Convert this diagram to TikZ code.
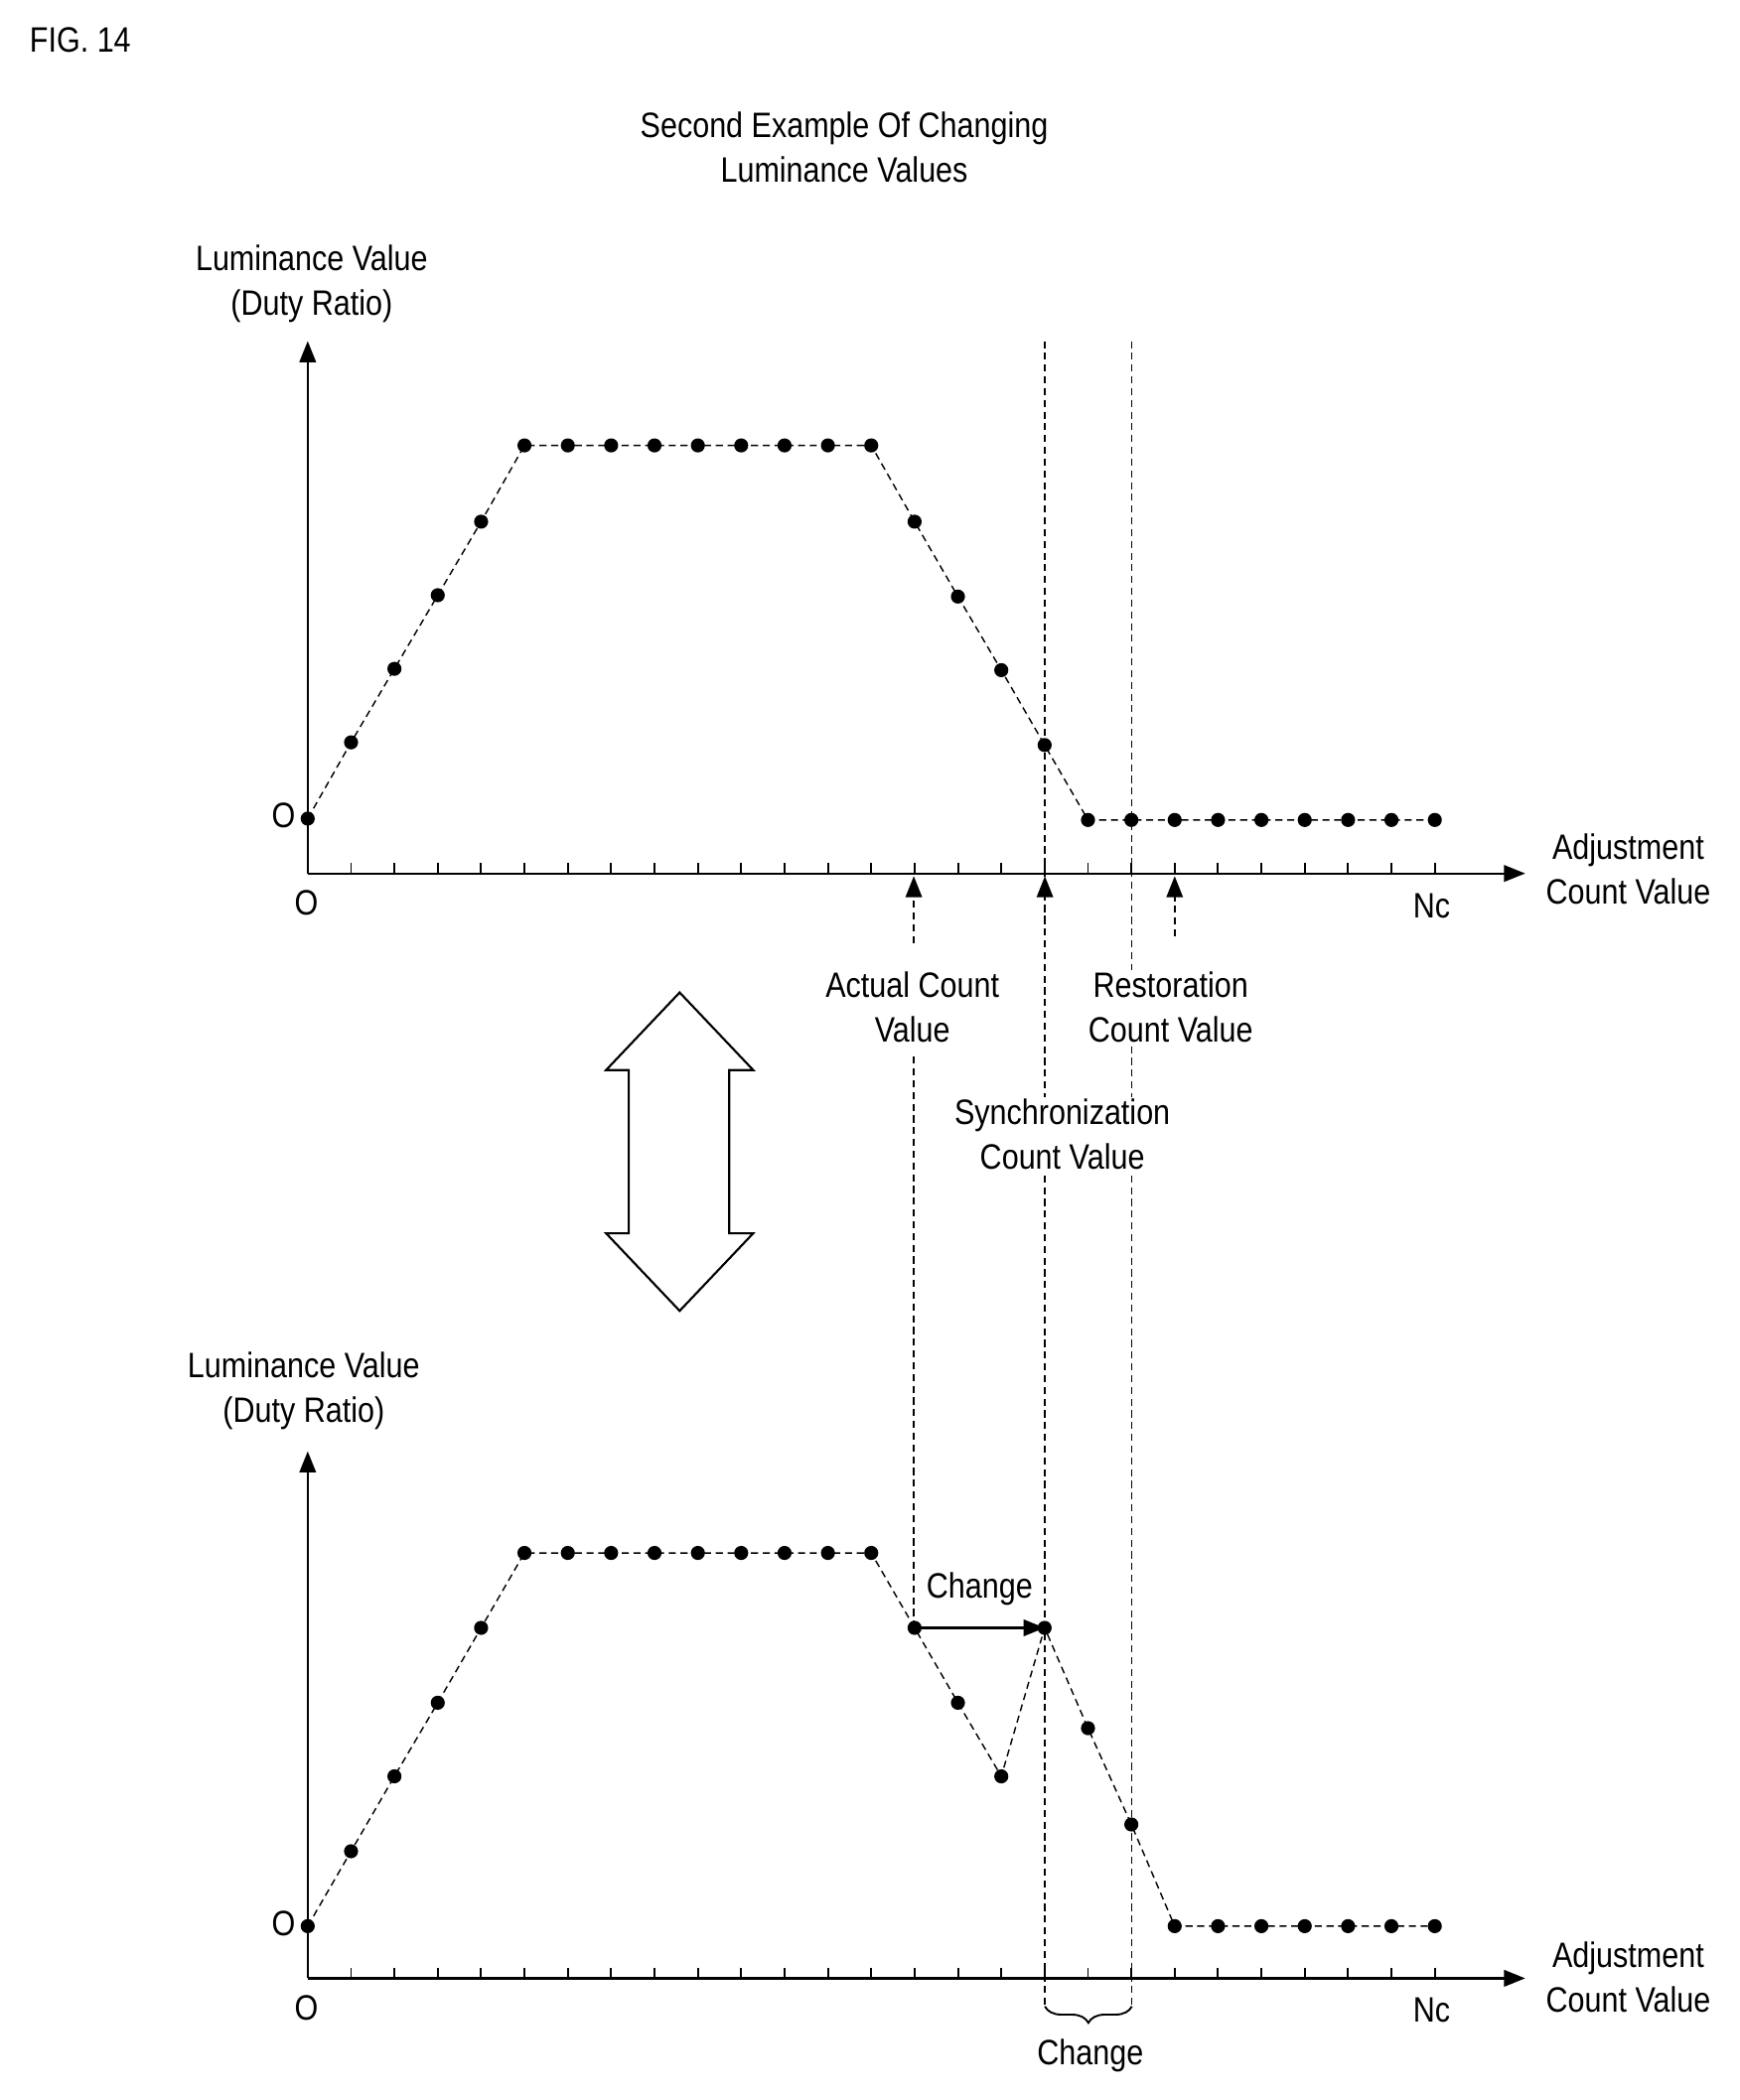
\documentclass[tikz,border=0pt]{standalone}
\usepackage{fontspec}
\setmainfont{Liberation Sans}[FakeStretch=0.86]
\usetikzlibrary{arrows.meta,decorations.pathreplacing}

\begin{document}
\fontsize{15}{19}\selectfont
\begin{tikzpicture}[x=0.02cm,y=-0.02cm,
    label/.style={align=center, text=black, inner sep=1pt},
    cover/.style={label, fill=white},
    dot/.style={circle, fill=black, inner sep=0pt, minimum size=6pt},
    guide/.style={densely dashed, line width=0.6pt},
    axis/.style={-{Triangle[length=9pt,width=7pt]}, line width=0.9pt}]
    \useasboundingbox (0,0) rectangle (1300,1570);

    \node (Fig) [label] at (60,30) {FIG. 14};
    \node (Title) [label] at (631,110) {Second Example Of Changing\\Luminance Values};

    % vertical guides (drawn first, texts cover them)
    \draw[guide] (781,255) -- (781,1500);
    \draw[guide] (846,255) -- (846,1500);
    \draw[guide] (683,790) -- (683,1217);

    % upper graph
    \coordinate (TopO) at (230,653);
    \draw[axis] (TopO) -- (230,255);
    \draw[axis] (TopO) -- (1140,653);
    \foreach \k in {1,...,26} \draw[line width=0.8pt] ({230+32.4*\k},653) -- ++(0,-8);
    \foreach \v [count=\k from 0] in {612,555,500,445,390,333,333,333,333,333,333,333,333,333,390,446,501,557,613,613,613,613,613,613,613,613,613}
        \coordinate (t\k) at ({230+32.4*\k},\v);
    \draw[guide] (t0) foreach \k in {1,...,26} { -- (t\k) };
    \foreach \k in {0,...,26} \node[dot] at (t\k) {};

    \node (TopLum) [label] at (233,212) {Luminance Value\\(Duty Ratio)};
    \node (TopZeroY) [label] at (212,610) {O};
    \node (TopZeroX) [label] at (229,675) {O};
    \node (TopNc) [label] at (1070,677) {Nc};
    \node (TopAdj) [label] at (1217,650) {Adjustment\\Count Value};

    \coordinate (ActBase) at (683,705);
    \coordinate (ActTip) at (683,655);
    \coordinate (SyncBase) at (781,690);
    \coordinate (SyncTip) at (781,655);
    \coordinate (RestBase) at (878,700);
    \coordinate (RestTip) at (878,655);
    \draw[guide, -{Triangle[length=9pt,width=7pt]}] (ActBase) -- (ActTip);
    \draw[guide, -{Triangle[length=9pt,width=7pt]}] (SyncBase) -- (SyncTip);
    \draw[guide, -{Triangle[length=9pt,width=7pt]}] (RestBase) -- (RestTip);

    \node (Actual) [cover] at (682,753) {Actual Count\\Value};
    \node (Restore) [cover] at (875,753) {Restoration\\Count Value};
    \node (Sync) [cover] at (794,848) {Synchronization\\Count Value};

    % double block arrow
    \draw[line width=0.9pt, line join=miter] (508,742) -- (563,800) -- (545,800) -- (545,922) -- (563,922)
        -- (508,980) -- (453,922) -- (470,922) -- (470,800) -- (453,800) -- cycle;

    % lower graph
    \coordinate (BotO) at (230,1479);
    \draw[axis] (BotO) -- (230,1085);
    \draw[axis] (BotO) -- (1140,1479);
    \foreach \k in {1,...,26} \draw[line width=0.8pt] ({230+32.4*\k},1479) -- ++(0,-8);
    \foreach \v [count=\k from 0] in {1440,1384,1328,1273,1217,1161,1161,1161,1161,1161,1161,1161,1161,1161,1217,1273,1328,1217,1292,1364,1440,1440,1440,1440,1440,1440,1440}
        \coordinate (b\k) at ({230+32.4*\k},\v);
    \draw[guide] (b0) foreach \k in {1,...,26} { -- (b\k) };
    \foreach \k in {0,...,26} \node[dot] at (b\k) {};

    \draw[-{Triangle[length=9pt,width=7pt]}, line width=1pt] (b14) -- (b17) node[midway, above=4pt] (ChangeLbl) {Change};

    \node (BotLum) [label] at (227,1040) {Luminance Value\\(Duty Ratio)};
    \node (BotZeroY) [label] at (212,1438) {O};
    \node (BotZeroX) [label] at (229,1501) {O};
    \node (BotNc) [label] at (1070,1503) {Nc};
    \node (BotAdj) [label] at (1217,1478) {Adjustment\\Count Value};

    \coordinate (BrL) at (781,1500);
    \coordinate (BrR) at (846,1500);
    \draw[decorate, decoration={brace, amplitude=7pt}, line width=0.8pt] (BrR) -- (BrL);
    \node (ChangeBr) [label] at (815,1537) {Change};
\end{tikzpicture}
\end{document}
